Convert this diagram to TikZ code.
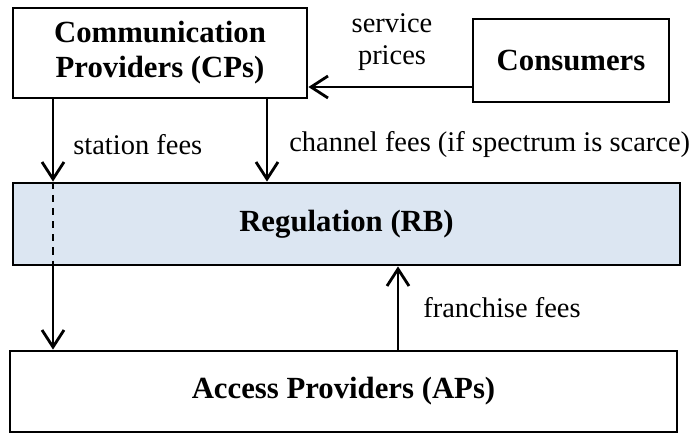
\documentclass[tikz,border=0pt]{standalone}
\usepackage{fontspec}
\setmainfont{Liberation Serif}
\usetikzlibrary{arrows.meta}
\definecolor{regblue}{HTML}{DCE6F2}
\tikzset{
  box/.style={draw, line width=1.6pt, align=center, inner sep=0pt,
    font=\fontsize{17.5}{20}\selectfont\bfseries},
  flow/.style={line width=1.6pt, -{Straight Barb[length=0.34cm, width=0.44cm, line width=1.6pt]}},
  lbl/.style={font=\fontsize{16.2}{18.5}\selectfont, inner sep=0pt, align=center}
}
\begin{document}
\begin{tikzpicture}
\useasboundingbox (0,0) rectangle (13.94,8.68);
\node[box, minimum width=5.88cm, minimum height=1.80cm] (cp) at (3.20,7.62) {Communication\\Providers (CPs)};
\node[box, minimum width=3.92cm, minimum height=1.66cm] (cons) at (11.42,7.47) {Consumers};
\node[box, fill=regblue, minimum width=13.34cm, minimum height=1.64cm] (rb) at (6.93,4.20) {Regulation (RB)};
\node[box, minimum width=13.34cm, minimum height=1.62cm] (ap) at (6.87,0.85) {Access Providers (APs)};
\coordinate (sf) at (1.06,6.94);
\coordinate (cf) at (5.34,6.94);
\coordinate (ff) at (7.96,6.94);
% consumers pay the CPs
\draw[flow] (cons.west |- sf) -- (cp.east |- sf);
\node[lbl] (sp) at (7.84,7.84) {service\\prices};
% fees to regulation
\draw[flow] (cp.south -| sf) -- (rb.north -| sf);
\draw[line width=1.6pt, dash pattern=on 4pt off 3.5pt] (rb.north -| sf) -- (rb.south -| sf);
\draw[flow] (rb.south -| sf) -- (ap.north -| sf);
\draw[flow] (cp.south -| cf) -- (rb.north -| cf);
\draw[flow] (ap.north -| ff) -- (rb.south -| ff);
\node[lbl, anchor=west] (sfl) at (1.46,5.78) {station fees};
\node[lbl, anchor=west] (cfl) at (5.78,5.78) {channel fees (if spectrum is scarce)};
\node[lbl, anchor=west] (ffl) at (8.46,2.52) {franchise fees};
\end{tikzpicture}
\end{document}
